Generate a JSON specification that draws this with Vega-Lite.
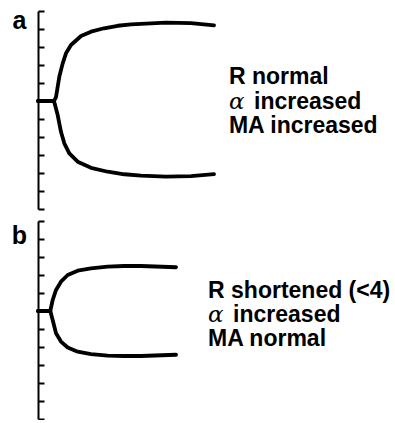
{
  "$schema": "https://vega.github.io/schema/vega-lite/v6.json",
  "padding": {"left": 11, "top": 8, "right": 0, "bottom": 0},
  "spacing": 10,
  "background": "white",
  "config": {
    "view": {"stroke": null},
    "axis": {
      "labels": false,
      "grid": false,
      "tickCount": 30,
      "domainColor": "black",
      "domainWidth": 2,
      "tickColor": "black",
      "tickWidth": 2,
      "tickSize": -6,
      "titleAngle": 0,
      "titleX": -19,
      "titleAlign": "center",
      "titleBaseline": "alphabetic",
      "titleFont": "Liberation Sans",
      "titleFontSize": 25,
      "titleFontWeight": "bold",
      "titleColor": "black"
    }
  },
  "datasets": {
    "curves": [
      {"panel": "a", "branch": "upper", "t": 0, "amp": 0},
      {"panel": "a", "branch": "upper", "t": 2.68, "amp": 0},
      {"panel": "a", "branch": "upper", "t": 3.02, "amp": 2.2},
      {"panel": "a", "branch": "upper", "t": 3.57, "amp": 13.5},
      {"panel": "a", "branch": "upper", "t": 4.14, "amp": 20.9},
      {"panel": "a", "branch": "upper", "t": 4.69, "amp": 26.5},
      {"panel": "a", "branch": "upper", "t": 5.53, "amp": 31.1},
      {"panel": "a", "branch": "upper", "t": 7.21, "amp": 36.1},
      {"panel": "a", "branch": "upper", "t": 8.88, "amp": 38.5},
      {"panel": "a", "branch": "upper", "t": 11.06, "amp": 40.4},
      {"panel": "a", "branch": "upper", "t": 13.36, "amp": 41.8},
      {"panel": "a", "branch": "upper", "t": 15.59, "amp": 42.6},
      {"panel": "a", "branch": "upper", "t": 21.45, "amp": 43.5},
      {"panel": "a", "branch": "upper", "t": 25.64, "amp": 43.3},
      {"panel": "a", "branch": "upper", "t": 29.5, "amp": 42.0},
      {"panel": "a", "branch": "lower", "t": 0, "amp": 0},
      {"panel": "a", "branch": "lower", "t": 2.68, "amp": 0},
      {"panel": "a", "branch": "lower", "t": 3.3, "amp": -7.8},
      {"panel": "a", "branch": "lower", "t": 3.85, "amp": -17.1},
      {"panel": "a", "branch": "lower", "t": 4.41, "amp": -23.5},
      {"panel": "a", "branch": "lower", "t": 5.25, "amp": -29.1},
      {"panel": "a", "branch": "lower", "t": 6.65, "amp": -33.7},
      {"panel": "a", "branch": "lower", "t": 8.88, "amp": -37.1},
      {"panel": "a", "branch": "lower", "t": 11.68, "amp": -39.3},
      {"panel": "a", "branch": "lower", "t": 14.46, "amp": -40.7},
      {"panel": "a", "branch": "lower", "t": 17.26, "amp": -41.5},
      {"panel": "a", "branch": "lower", "t": 21.45, "amp": -42.0},
      {"panel": "a", "branch": "lower", "t": 25.64, "amp": -41.7},
      {"panel": "a", "branch": "lower", "t": 29.5, "amp": -40.6},
      {"panel": "b", "branch": "upper", "t": 0, "amp": 0},
      {"panel": "b", "branch": "upper", "t": 2.06, "amp": 0},
      {"panel": "b", "branch": "upper", "t": 2.46, "amp": 6.1},
      {"panel": "b", "branch": "upper", "t": 3.02, "amp": 11.7},
      {"panel": "b", "branch": "upper", "t": 3.85, "amp": 16.3},
      {"panel": "b", "branch": "upper", "t": 4.98, "amp": 20.0},
      {"panel": "b", "branch": "upper", "t": 6.65, "amp": 22.4},
      {"panel": "b", "branch": "upper", "t": 8.88, "amp": 23.7},
      {"panel": "b", "branch": "upper", "t": 11.68, "amp": 24.7},
      {"panel": "b", "branch": "upper", "t": 14.46, "amp": 25.0},
      {"panel": "b", "branch": "upper", "t": 17.26, "amp": 25.0},
      {"panel": "b", "branch": "upper", "t": 23.13, "amp": 24.3},
      {"panel": "b", "branch": "lower", "t": 0, "amp": 0},
      {"panel": "b", "branch": "lower", "t": 2.06, "amp": 0},
      {"panel": "b", "branch": "lower", "t": 2.46, "amp": -5.0},
      {"panel": "b", "branch": "lower", "t": 3.02, "amp": -12.4},
      {"panel": "b", "branch": "lower", "t": 3.85, "amp": -17.0},
      {"panel": "b", "branch": "lower", "t": 4.98, "amp": -20.3},
      {"panel": "b", "branch": "lower", "t": 6.65, "amp": -22.6},
      {"panel": "b", "branch": "lower", "t": 8.88, "amp": -23.9},
      {"panel": "b", "branch": "lower", "t": 11.68, "amp": -24.8},
      {"panel": "b", "branch": "lower", "t": 14.46, "amp": -25.0},
      {"panel": "b", "branch": "lower", "t": 17.26, "amp": -25.0},
      {"panel": "b", "branch": "lower", "t": 23.13, "amp": -24.3}
    ],
    "labels": [
      {"panel": "a", "kind": "word", "t": 32.0, "amp": 9.3, "text": "R normal"},
      {"panel": "a", "kind": "greek", "t": 32.0, "amp": -4.2, "text": "α"},
      {"panel": "a", "kind": "word", "t": 36.2, "amp": -4.2, "text": "increased"},
      {"panel": "a", "kind": "word", "t": 32.0, "amp": -17.6, "text": "MA increased"},
      {"panel": "b", "kind": "word", "t": 28.5, "amp": 7.1, "text": "R shortened (<4)"},
      {"panel": "b", "kind": "greek", "t": 28.5, "amp": -5.9, "text": "α"},
      {"panel": "b", "kind": "word", "t": 32.7, "amp": -5.9, "text": "increased"},
      {"panel": "b", "kind": "word", "t": 28.5, "amp": -19.2, "text": "MA normal"}
    ]
  },
  "vconcat": [
    {
      "width": 358,
      "height": 198,
      "layer": [
        {
          "data": {"name": "curves"},
          "transform": [{"filter": "datum.panel === 'a'"}],
          "mark": {"type": "line", "color": "black", "strokeWidth": 3.8, "strokeCap": "round", "strokeJoin": "round"},
          "encoding": {
            "x": {"field": "t", "type": "quantitative", "scale": {"domain": [0, 60], "nice": false, "zero": false}, "axis": null},
            "y": {"field": "amp", "type": "quantitative", "scale": {"domain": [-60, 50], "nice": false, "zero": false}, "title": "a",
                  "axis": {"titleY": 17, "tickCount": 30, "values": [-60, -50, -40, -30, -20, -10, 0, 10, 20, 30, 40, 50]}},
            "detail": {"field": "branch"}
          }
        },
        {
          "data": {"name": "labels"},
          "transform": [{"filter": "datum.panel === 'a' && datum.kind === 'word'"}],
          "mark": {"type": "text", "align": "left", "baseline": "alphabetic", "font": "Liberation Sans", "fontSize": 23, "fontWeight": "bold", "color": "black"},
          "encoding": {
            "x": {"field": "t", "type": "quantitative"},
            "y": {"field": "amp", "type": "quantitative"},
            "text": {"field": "text"}
          }
        },
        {
          "data": {"name": "labels"},
          "transform": [{"filter": "datum.panel === 'a' && datum.kind === 'greek'"}],
          "mark": {"type": "text", "align": "left", "baseline": "alphabetic", "font": "DejaVu Serif", "fontSize": 23, "fontStyle": "italic", "fontWeight": "normal", "color": "black"},
          "encoding": {
            "x": {"field": "t", "type": "quantitative"},
            "y": {"field": "amp", "type": "quantitative"},
            "text": {"field": "text"}
          }
        }
      ]
    },
    {
      "width": 358,
      "height": 198,
      "layer": [
        {
          "data": {"name": "curves"},
          "transform": [{"filter": "datum.panel === 'b'"}],
          "mark": {"type": "line", "color": "black", "strokeWidth": 3.8, "strokeCap": "round", "strokeJoin": "round"},
          "encoding": {
            "x": {"field": "t", "type": "quantitative", "scale": {"domain": [0, 60], "nice": false, "zero": false}, "axis": null},
            "y": {"field": "amp", "type": "quantitative", "scale": {"domain": [-60, 50], "nice": false, "zero": false}, "title": "b",
                  "axis": {"titleY": 22, "tickCount": 30, "values": [-60, -50, -40, -30, -20, -10, 0, 10, 20, 30, 40, 50]}},
            "detail": {"field": "branch"}
          }
        },
        {
          "data": {"name": "labels"},
          "transform": [{"filter": "datum.panel === 'b' && datum.kind === 'word'"}],
          "mark": {"type": "text", "align": "left", "baseline": "alphabetic", "font": "Liberation Sans", "fontSize": 23, "fontWeight": "bold", "color": "black"},
          "encoding": {
            "x": {"field": "t", "type": "quantitative"},
            "y": {"field": "amp", "type": "quantitative"},
            "text": {"field": "text"}
          }
        },
        {
          "data": {"name": "labels"},
          "transform": [{"filter": "datum.panel === 'b' && datum.kind === 'greek'"}],
          "mark": {"type": "text", "align": "left", "baseline": "alphabetic", "font": "DejaVu Serif", "fontSize": 23, "fontStyle": "italic", "fontWeight": "normal", "color": "black"},
          "encoding": {
            "x": {"field": "t", "type": "quantitative"},
            "y": {"field": "amp", "type": "quantitative"},
            "text": {"field": "text"}
          }
        }
      ]
    }
  ]
}
